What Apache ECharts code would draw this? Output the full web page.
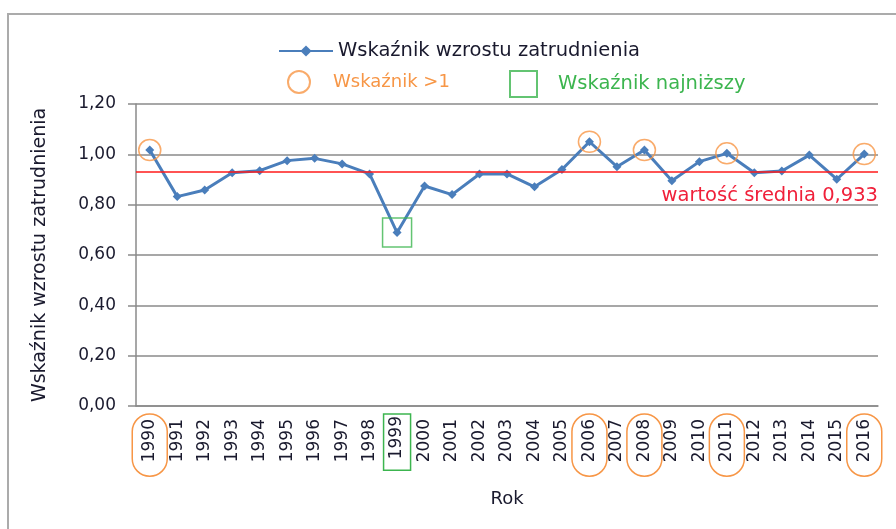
<!DOCTYPE html>
<html>
<head>
<meta charset="utf-8">
<script src="https://cdn.jsdelivr.net/npm/echarts@6/dist/echarts.min.js"></script>
<style>
html, body { margin: 0; padding: 0; background: #fff; }
#main { width: 896px; height: 529px; }
</style>
</head>
<body>
<div id="main"></div>
<script>
// dane
var years = ['1990','1991','1992','1993','1994','1995','1996','1997','1998','1999',
	'2000','2001','2002','2003','2004','2005','2006','2007','2008','2009',
	'2010','2011','2012','2013','2014','2015','2016'];
var values = [1.017, 0.832, 0.858, 0.927, 0.935, 0.975, 0.984, 0.962, 0.922, 0.689,
	0.874, 0.840, 0.922, 0.922, 0.871, 0.940, 1.050, 0.951, 1.017, 0.895,
	0.971, 1.004, 0.927, 0.934, 0.997, 0.901, 1.001];
var avgValue = 0.933;
var yTicks = [0, 0.2, 0.4, 0.6, 0.8, 1.0, 1.2];

var seriesName = 'Wskaźnik wzrostu zatrudnienia';
var highName = 'Wskaźnik >1';
var lowName = 'Wskaźnik najniższy';

var orange = '#f79646';
var green = '#3cb54f';
var blue = '#4a7ebb';
var dark = '#1a1a2e';
var font = 'DejaVu Sans';

var minValue = Math.min.apply(null, values);
var highData = values.map(function (v) { return v > 1 ? v : '-'; });
var lowData = values.map(function (v) { return v === minValue ? v : '-'; });

function fmt(v) {
	return v.toFixed(2).replace('.', ',');
}

var myChart = echarts.init(document.getElementById('main'));
var option = {
	animation: false,
	backgroundColor: '#fff',
	textStyle: { fontFamily: font },
	graphic: [{
		type: 'rect',
		shape: { x: 8, y: 14, width: 920, height: 560 },
		style: { fill: 'none', stroke: '#ababab', lineWidth: 2 }
	}],
	legend: [{
		data: [seriesName],
		left: 273,
		top: 36,
		itemWidth: 54,
		itemHeight: 14,
		textStyle: { fontSize: 19.5, color: dark, fontFamily: font }
	}, {
		data: [{ name: highName, textStyle: { color: orange } }],
		left: 282,
		top: 65,
		itemWidth: 22,
		itemHeight: 22,
		textStyle: { fontSize: 18, fontFamily: font, padding: [0, 0, 0, 18] }
	}, {
		data: [{ name: lowName, textStyle: { color: green } }],
		left: 504,
		top: 65,
		itemWidth: 27,
		itemHeight: 26,
		textStyle: { fontSize: 19.5, fontFamily: font, padding: [0, 0, 0, 16] }
	}],
	grid: { left: 136, right: 18, top: 104, bottom: 123 },
	xAxis: {
		type: 'category',
		data: years,
		name: 'Rok',
		nameLocation: 'middle',
		nameGap: 84,
		nameTextStyle: { fontSize: 18, color: dark },
		axisLine: { lineStyle: { color: '#8a8a8a', width: 1.5 } },
		axisTick: { show: false },
		axisLabel: {
			interval: 0,
			rotate: 90,
			margin: 8,
			formatter: function (v, i) {
				if (values[i] > 1) return '{hi|' + v + '}';
				if (values[i] === minValue) return '{lo|' + v + '}';
				return '{n|' + v + '}';
			},
			rich: {
				n: { fontSize: 17, color: dark, lineHeight: 18, padding: [9, 5, 9, 14],
					borderColor: 'transparent', borderWidth: 1.5 },
				hi: { fontSize: 17, color: dark, lineHeight: 18, padding: [9, 5, 9, 14],
					borderColor: orange, borderWidth: 1.5, borderRadius: 32 },
				lo: { fontSize: 17, color: dark, lineHeight: 18, padding: [5, 2, 5, 11],
					borderColor: green, borderWidth: 1.5 }
			}
		}
	},
	yAxis: {
		type: 'value',
		min: 0,
		max: 1.2,
		interval: 0.2,
		name: seriesName,
		nameLocation: 'middle',
		nameGap: 86,
		nameTextStyle: { fontSize: 19, color: dark },
		axisLine: { show: true, lineStyle: { color: '#8a8a8a', width: 1.5 } },
		axisTick: { show: true, length: 8, lineStyle: { color: '#8a8a8a', width: 1.5 } },
		axisLabel: {
			fontSize: 17,
			color: dark,
			margin: 20,
			formatter: function (v) { return fmt(v); }
		},
		splitLine: { lineStyle: { color: '#8a8a8a', width: 1.5 } }
	},
	series: [{
		name: seriesName,
		type: 'line',
		data: values,
		symbol: 'diamond',
		symbolSize: 9,
		color: blue,
		lineStyle: { width: 3, color: blue },
		itemStyle: { color: blue },
		z: 3,
		markLine: {
			silent: true,
			symbol: 'none',
			lineStyle: { color: '#ff1a1a', width: 1.5, type: 'solid' },
			label: {
				position: 'insideEndBottom',
				formatter: 'wartość średnia ' + avgValue.toFixed(3).replace('.', ','),
				color: '#f0203a',
				fontSize: 19.5,
				fontFamily: font,
				distance: [0, 14]
			},
			data: [{ yAxis: avgValue }]
		}
	}, {
		name: highName,
		type: 'scatter',
		data: highData,
		symbol: 'circle',
		symbolSize: [22, 21],
		itemStyle: { color: 'rgba(0,0,0,0)', borderColor: orange, borderWidth: 1.5 },
		z: 4
	}, {
		name: lowName,
		type: 'scatter',
		data: lowData,
		symbol: 'rect',
		symbolSize: 29,
		itemStyle: { color: 'rgba(0,0,0,0)', borderColor: green, borderWidth: 1.5 },
		z: 4
	}]
};
myChart.setOption(option);
</script>
</body>
</html>
